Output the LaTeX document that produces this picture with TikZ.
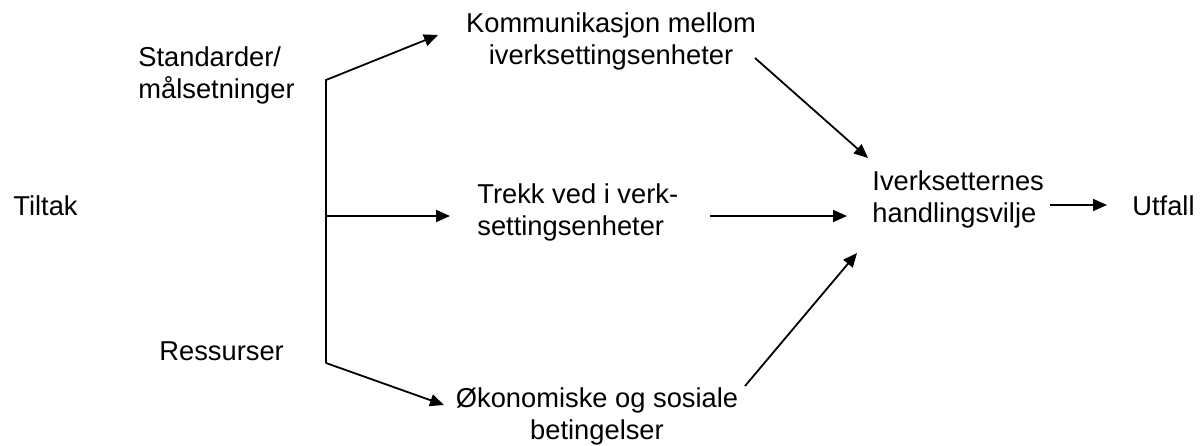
\documentclass[tikz,border=0pt]{standalone}
\usepackage{fontspec}
\setmainfont{Liberation Sans}
\usetikzlibrary{arrows.meta}
\begin{document}
\begin{tikzpicture}[x=0.5pt,y=-0.5pt,
  lbl/.style={inner sep=0pt, font=\fontsize{13.65pt}{16pt}\selectfont},
  conn/.style={line width=0.9pt, line join=miter},
  arr/.style={conn, -{Triangle[length=7pt,width=6pt]}}]
\useasboundingbox (0,0) rectangle (1203,445);
% text nodes
\node[lbl, anchor=base west] (tiltak) at (13,215) {Tiltak};
\node[lbl, anchor=base west] (std) at (138,66) {\begin{tabular}[t]{@{}l@{}}Standarder/\\målsetninger\end{tabular}};
\node[lbl, anchor=base west] (res) at (159,360) {Ressurser};
\node[lbl, anchor=base] (komm) at (611,32) {\begin{tabular}[t]{@{}c@{}}Kommunikasjon mellom\\iverksettingsenheter\end{tabular}};
\node[lbl, anchor=base west] (trekk) at (477,203) {\begin{tabular}[t]{@{}l@{}}Trekk ved i verk-\\settingsenheter\end{tabular}};
\node[lbl, anchor=base] (okon) at (597,407) {\begin{tabular}[t]{@{}c@{}}Økonomiske og sosiale\\betingelser\end{tabular}};
\node[lbl, anchor=base west] (iverk) at (872,190) {\begin{tabular}[t]{@{}l@{}}Iverksetternes\\handlingsvilje\end{tabular}};
\node[lbl, anchor=base west] (utfall) at (1132,215) {Utfall};
% connector points
\coordinate (ctop) at (326,80);
\coordinate (cmid) at (326,216);
\coordinate (cbot) at (326,363);
\coordinate (kommin) at (438,35);
\coordinate (trekkin) at (450,216);
\coordinate (okonin) at (444,405);
\coordinate (kommout) at (755,58);
\coordinate (trekkout) at (710,216);
\coordinate (okonout) at (745,386);
\coordinate (iverkinA) at (868,158);
\coordinate (iverkinB) at (847,216);
\coordinate (iverkinC) at (857,253);
\coordinate (iverkout) at (1050,205);
\coordinate (utfallin) at (1107,205);
% connectors
\draw[arr] (cbot) -- (ctop) -- (kommin);
\draw[arr] (cmid) -- (trekkin);
\draw[arr] (cbot) -- (okonin);
\draw[arr] (kommout) -- (iverkinA);
\draw[arr] (trekkout) -- (iverkinB);
\draw[arr] (okonout) -- (iverkinC);
\draw[arr] (iverkout) -- (utfallin);
\end{tikzpicture}
\end{document}
